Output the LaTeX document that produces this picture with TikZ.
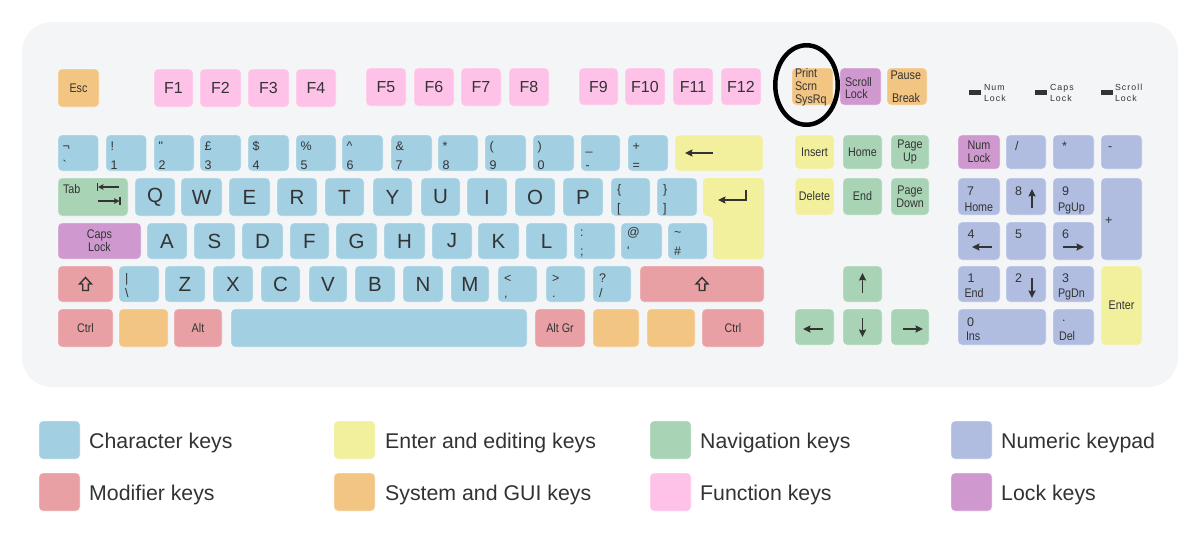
\documentclass[tikz,border=0pt]{standalone}
\usepackage{fontspec}
\setmainfont{Liberation Sans}
\newfontfamily\narrowfont[FakeStretch=0.86]{Liberation Sans}
\newfontfamily\ledfont[LetterSpace=12]{Liberation Sans}
\usetikzlibrary{arrows.meta,calc,shapes.geometric}
\definecolor{cchar}{HTML}{A2CFE2}
\definecolor{cedit}{HTML}{F2EF9D}
\definecolor{cnav}{HTML}{A9D3B5}
\definecolor{cnum}{HTML}{B0BDE1}
\definecolor{cmod}{HTML}{E8A0A5}
\definecolor{csys}{HTML}{F3C583}
\definecolor{cfun}{HTML}{FEC2E8}
\definecolor{clock}{HTML}{CF99CF}
\definecolor{cpanel}{HTML}{F4F5F7}
\definecolor{ctext}{HTML}{333333}
\newcommand\mykey[7]{%
  \pgfmathsetmacro\kcx{(#2+#4)/2}%
  \pgfmathsetmacro\kcy{(#3+#5)/2}%
  \pgfmathsetmacro\kw{#4-#2}%
  \pgfmathsetmacro\kh{#5-#3}%
  \node[#6, minimum width=\kw pt, minimum height=\kh pt] (#1) at (\kcx,\kcy) {#7};}
\newcommand\dkey[7]{%
  \mykey{#1}{#2}{#3}{#4}{#5}{kchar}{}%
  \node[lbl] (#1t) at ($(#1.north west)+(\lx,\topoff)$) {#6};
  \node[lbl] (#1b) at ($(#1.south west)+(\lx,-\botoff)$) {#7};}
\begin{document}
\begin{tikzpicture}[x=1pt,y=-1pt,
  kbase/.style={rounded corners=4pt, inner sep=0pt, outer sep=0pt, text=ctext, align=center,
    draw=white, draw opacity=.45, line width=.8pt, font=\narrowfont\fontsize{12.5}{12.8}\selectfont},
  kchar/.style={kbase, fill=cchar},
  kedit/.style={kbase, fill=cedit},
  knav/.style={kbase, fill=cnav},
  knum/.style={kbase, fill=cnum},
  kmod/.style={kbase, fill=cmod},
  ksys/.style={kbase, fill=csys},
  kfun/.style={kbase, fill=cfun},
  klock/.style={kbase, fill=clock},
  fbig/.style={font=\fontsize{20.5}{24}\selectfont},
  ffun/.style={font=\fontsize{16}{18}\selectfont},
  lbl/.style={inner sep=0pt, outer sep=0pt, anchor=base west, text=ctext, font=\fontsize{12.5}{14}\selectfont},
  slbl/.style={lbl, font=\narrowfont\fontsize{12.5}{14}\selectfont},
  ledlbl/.style={lbl, font=\ledfont\fontsize{8.8}{10}\selectfont},
  led/.style={fill=ctext, inner sep=0pt, minimum width=12pt, minimum height=5pt},
  arr/.style={draw=ctext, line width=1.7pt, -{Stealth[length=7.5pt,width=7pt,inset=1pt]}},
  arrsm/.style={draw=ctext, line width=1.5pt, -{Stealth[length=5.5pt,width=5.5pt,inset=1pt]}},
  shiftsym/.style={draw=ctext, line width=1.4pt, line join=miter},
  swatch/.style={rounded corners=4pt, draw=white, draw opacity=.45, line width=.8pt, minimum width=41pt, minimum height=38pt, inner sep=0pt},
  lgtext/.style={inner sep=0pt, anchor=base west, text=ctext, font=\fontsize{21.3}{24}\selectfont}
]
\useasboundingbox (0,0) rectangle (1200,544);
\fill[white] (0,0) rectangle (1200,544);
\fill[cpanel, rounded corners=30pt] (22,22) rectangle (1178,387);

% ---- function row
\mykey{esc}{58}{69}{99}{107}{ksys}{Esc}
\mykey{f1}{154}{69}{193}{107}{kfun,ffun}{F1}
\mykey{f2}{200}{69}{241}{107}{kfun,ffun}{F2}
\mykey{f3}{248}{69}{289}{107}{kfun,ffun}{F3}
\mykey{f4}{296}{69}{336}{107}{kfun,ffun}{F4}
\mykey{f5}{366}{68}{406}{106}{kfun,ffun}{F5}
\mykey{f6}{414}{68}{454}{106}{kfun,ffun}{F6}
\mykey{f7}{461}{68}{501}{106}{kfun,ffun}{F7}
\mykey{f8}{509}{68}{549}{106}{kfun,ffun}{F8}
\mykey{f9}{579}{68}{618}{105}{kfun,ffun}{F9}
\mykey{f10}{625}{68}{665}{105}{kfun,ffun}{F10}
\mykey{f11}{673}{68}{713}{105}{kfun,ffun}{F11}
\mykey{f12}{721}{68}{761}{105}{kfun,ffun}{F12}
\mykey{prt}{792}{68}{833}{105}{ksys}{}
\node[slbl] (prt1) at ($(prt.north west)+(3,9)$) {Print};
\node[slbl] (prt2) at ($(prt.north west)+(3,22)$) {Scrn};
\node[slbl] (prt3) at ($(prt.north west)+(3,35)$) {SysRq};
\mykey{scl}{840}{68}{881}{105}{klock}{}
\node[slbl] (scl1) at ($(scl.north west)+(5,18)$) {Scroll};
\node[slbl] (scl2) at ($(scl.north west)+(5,30)$) {Lock};
\mykey{pau}{887}{68}{927}{105}{ksys}{}
\node[slbl] (pau1) at ($(pau.north west)+(3.5,11)$) {Pause};
\node[slbl] (pau2) at ($(pau.north west)+(5,34)$) {Break};
\node[draw=black, ellipse, line width=4.5pt, inner sep=0pt, minimum width=62.5pt, minimum height=79.5pt] (ring) at (806.5,85) {};

% ---- lock LEDs
\node[led] (ledn) at (975,92) {};
\node[ledlbl] (ledn1) at (984,90) {Num};
\node[ledlbl] (ledn2) at (984,101) {Lock};
\node[led] (ledc) at (1041,92) {};
\node[ledlbl] (ledc1) at (1050,90) {Caps};
\node[ledlbl] (ledc2) at (1050,101) {Lock};
\node[led] (leds) at (1106.5,92) {};
\node[ledlbl] (leds1) at (1115,90) {Scroll};
\node[ledlbl] (leds2) at (1115,101) {Lock};

% ---- number row
\def\lx{4.5}\def\topoff{15}\def\botoff{2}
\dkey{k1}{58}{135}{98.5}{171}{¬}{\textasciigrave}
\dkey{k2}{106}{135}{146.5}{171}{!}{1}
\dkey{k3}{154}{135}{194}{171}{\textquotedbl}{2}
\dkey{k4}{200}{135}{241}{171}{£}{3}
\dkey{k5}{248}{135}{289}{171}{\$}{4}
\dkey{k6}{296}{135}{336}{171}{\%}{5}
\dkey{k7}{342}{135}{383}{171}{\textasciicircum}{6}
\dkey{k8}{391}{135}{432}{171}{\&}{7}
\dkey{k9}{438}{135}{478}{171}{*}{8}
\dkey{k10}{485}{135}{526}{171}{(}{9}
\dkey{k11}{533}{135}{574}{171}{)}{0}
\dkey{k12}{581}{135}{620}{171}{\_}{-}
\dkey{k13}{628}{135}{668}{171}{+}{=}
\mykey{bksp}{675}{135}{763}{171}{kedit}{}
\draw[arr] ($(bksp.west)+(38,0)$) -- ($(bksp.west)+(10,0)$);

% ---- QWERTY row
\mykey{tab}{58}{178}{128}{216}{knav}{}
\node[slbl] (tabl) at ($(tab.north west)+(5,15)$) {Tab};
\draw[arrsm] ($(tab.north west)+(61,9)$) -- ($(tab.north west)+(40,9)$);
\draw[draw=ctext, line width=1.6pt] ($(tab.north west)+(39.5,5)$) -- ($(tab.north west)+(39.5,13)$);
\draw[arrsm] ($(tab.north west)+(40,23)$) -- ($(tab.north west)+(61.5,23)$);
\draw[draw=ctext, line width=1.6pt] ($(tab.north west)+(62,19)$) -- ($(tab.north west)+(62,27)$);
\mykey{kq}{135}{178}{175}{216}{kchar,fbig}{Q}
\mykey{kw}{181}{178}{222}{216}{kchar,fbig}{W}
\mykey{ke}{229}{178}{270}{216}{kchar,fbig}{E}
\mykey{kr}{277}{178}{317}{216}{kchar,fbig}{R}
\mykey{kt}{325}{178}{364}{216}{kchar,fbig}{T}
\mykey{ky}{373}{178}{412}{216}{kchar,fbig}{Y}
\mykey{ku}{421}{178}{460}{216}{kchar,fbig}{U}
\mykey{ki}{467}{178}{507}{216}{kchar,fbig}{I}
\mykey{ko}{515}{178}{555}{216}{kchar,fbig}{O}
\mykey{kp}{563}{178}{603}{216}{kchar,fbig}{P}
\def\lx{6}\def\topoff{15.5}\def\botoff{4}
\dkey{klb}{611}{178}{650}{216}{\{}{[}
\dkey{krb}{657}{178}{697}{216}{\}}{]}
\path[fill=cedit, rounded corners=4pt] (703,178) -- (764,178) -- (764,259) -- (713,259) -- (713,216) -- (703,216) -- cycle;
\coordinate (ent) at (703,178);
\draw[arr, line join=miter] ($(ent)+(43,12)$) -- ($(ent)+(43,22)$) -- ($(ent)+(15,22)$);

% ---- ASDF row
\mykey{caps}{58}{223}{141}{259}{klock}{Caps\\Lock}
\mykey{ka}{147}{223}{187}{259}{kchar,fbig}{A}
\mykey{ks}{194}{223}{235}{259}{kchar,fbig}{S}
\mykey{kd}{242}{223}{283}{259}{kchar,fbig}{D}
\mykey{kf}{290}{223}{329}{259}{kchar,fbig}{F}
\mykey{kg}{336}{223}{377}{259}{kchar,fbig}{G}
\mykey{kh}{384}{223}{425}{259}{kchar,fbig}{H}
\mykey{kj}{432}{223}{472}{259}{kchar,fbig}{J}
\mykey{kk}{478}{223}{519}{259}{kchar,fbig}{K}
\mykey{kl}{526}{223}{567}{259}{kchar,fbig}{L}
\def\lx{6}\def\topoff{13.5}\def\botoff{4}
\dkey{ksc}{574}{223}{615}{259}{:}{;}
\dkey{kat}{621}{223}{662}{259}{@}{\textquotesingle}
\dkey{kti}{668}{223}{707}{259}{\textasciitilde}{\#}

% ---- ZXCV row
\mykey{lsh}{58}{266}{113}{302}{kmod}{}
\draw[shiftsym] ($(lsh.center)+(0,-6.5)$) -- ++(6,6.5) -- ++(-3.2,0) -- ++(0,6.5) -- ++(-5.6,0) -- ++(0,-6.5) -- ++(-3.2,0) -- cycle;
\def\lx{6}\def\topoff{16}\def\botoff{5}
\dkey{kbs}{119}{266}{159}{302}{\textbar}{\textbackslash}
\mykey{kz}{165}{266}{205}{302}{kchar,fbig}{Z}
\mykey{kx}{213}{266}{253}{302}{kchar,fbig}{X}
\mykey{kc}{261}{266}{300}{302}{kchar,fbig}{C}
\mykey{kv}{309}{266}{347}{302}{kchar,fbig}{V}
\mykey{kb}{355}{266}{395}{302}{kchar,fbig}{B}
\mykey{kn}{403}{266}{443}{302}{kchar,fbig}{N}
\mykey{km}{451}{266}{489}{302}{kchar,fbig}{M}
\dkey{klt}{498}{266}{537}{302}{<}{,}
\dkey{kgt}{546}{266}{585}{302}{>}{.}
\dkey{kqm}{593}{266}{631}{302}{?}{/}
\mykey{rsh}{640}{266}{764}{302}{kmod}{}
\draw[shiftsym] ($(rsh.center)+(0,-6.5)$) -- ++(6,6.5) -- ++(-3.2,0) -- ++(0,6.5) -- ++(-5.6,0) -- ++(0,-6.5) -- ++(-3.2,0) -- cycle;

% ---- bottom row
\mykey{lctl}{58}{309}{113}{347}{kmod}{Ctrl}
\mykey{lwin}{119}{309}{168}{347}{ksys}{}
\mykey{lalt}{174}{309}{222}{347}{kmod}{Alt}
\mykey{spc}{231}{309}{527}{347}{kchar}{}
\mykey{altgr}{535}{309}{585}{347}{kmod}{Alt Gr}
\mykey{rwin}{593}{309}{639}{347}{ksys}{}
\mykey{menu}{647}{309}{695}{347}{ksys}{}
\mykey{rctl}{702}{309}{764}{347}{kmod}{Ctrl}

% ---- editing / navigation
\mykey{ins}{795}{135}{834}{169}{kedit}{Insert}
\mykey{home}{843}{135}{882}{169}{knav}{Home}
\mykey{pgup}{891}{135}{929}{169}{knav}{Page\\Up}
\mykey{del}{795}{178}{834}{215}{kedit}{Delete}
\mykey{end}{843}{178}{882}{215}{knav}{End}
\mykey{pgdn}{891}{178}{929}{215}{knav}{Page\\Down}
\mykey{up}{843}{266}{882}{302}{knav}{}
\mykey{lft}{795}{309}{834}{345}{knav}{}
\mykey{dn}{843}{309}{882}{345}{knav}{}
\mykey{rt}{891}{309}{929}{345}{knav}{}
\draw[arr] ($(up.center)+(0,9)$) -- ($(up.center)+(0,-11)$);
\draw[arr] ($(lft.center)+(8.5,2)$) -- ($(lft.center)+(-11.5,2)$);
\draw[arr] ($(dn.center)+(0,-9)$) -- ($(dn.center)+(0,10)$);
\draw[arr] ($(rt.center)+(-7,2)$) -- ($(rt.center)+(13,2)$);

% ---- numeric keypad
\mykey{nlk}{958}{135}{1000}{169}{klock}{Num\\Lock}
\mykey{ndiv}{1006}{135}{1046}{169}{knum}{}
\mykey{nmul}{1053}{135}{1094}{169}{knum}{}
\mykey{nsub}{1101}{135}{1142}{169}{knum}{}
\node[lbl] (ndivl) at ($(ndiv.north west)+(9,15)$) {/};
\node[lbl] (nmull) at ($(nmul.north west)+(9,15)$) {*};
\node[lbl] (nsubl) at ($(nsub.north west)+(7,15)$) {-};
\mykey{n7}{958}{178}{1000}{215}{knum}{}
\mykey{n8}{1006}{178}{1046}{215}{knum}{}
\mykey{n9}{1053}{178}{1094}{215}{knum}{}
\mykey{nadd}{1101}{178}{1142}{260}{knum}{}
\node[lbl] (n7a) at ($(n7.north west)+(9,17)$) {7};
\node[slbl] (n7b) at ($(n7.north west)+(6.5,33)$) {Home};
\node[lbl] (n8a) at ($(n8.north west)+(9,17)$) {8};
\draw[arr] ($(n8.north west)+(26,30)$) -- ($(n8.north west)+(26,11)$);
\node[lbl] (n9a) at ($(n9.north west)+(9,17)$) {9};
\node[slbl] (n9b) at ($(n9.north west)+(5,33)$) {PgUp};
\node[lbl] (naddl) at ($(nadd.north west)+(4,46)$) {+};
\mykey{n4}{958}{222}{1000}{260}{knum}{}
\mykey{n5}{1006}{222}{1046}{260}{knum}{}
\mykey{n6}{1053}{222}{1094}{260}{knum}{}
\node[lbl] (n4a) at ($(n4.north west)+(9.5,16)$) {4};
\draw[arr] ($(n4.north west)+(34,25)$) -- ($(n4.north west)+(14,25)$);
\node[lbl] (n5a) at ($(n5.north west)+(9,16)$) {5};
\node[lbl] (n6a) at ($(n6.north west)+(9,16)$) {6};
\draw[arr] ($(n6.north west)+(10,25)$) -- ($(n6.north west)+(31,25)$);
\mykey{n1}{958}{266}{1000}{302}{knum}{}
\mykey{n2}{1006}{266}{1046}{302}{knum}{}
\mykey{n3}{1053}{266}{1094}{302}{knum}{}
\mykey{nent}{1101}{266}{1142}{345}{kedit}{Enter}
\node[lbl] (n1a) at ($(n1.north west)+(9.5,16)$) {1};
\node[slbl] (n1b) at ($(n1.north west)+(6.5,31)$) {End};
\node[lbl] (n2a) at ($(n2.north west)+(9,16)$) {2};
\draw[arr] ($(n2.north west)+(26,12)$) -- ($(n2.north west)+(26,32)$);
\node[lbl] (n3a) at ($(n3.north west)+(9,16)$) {3};
\node[slbl] (n3b) at ($(n3.north west)+(5,31)$) {PgDn};
\mykey{n0}{958}{309}{1046}{345}{knum}{}
\mykey{ndot}{1053}{309}{1094}{345}{knum}{}
\node[lbl] (n0a) at ($(n0.north west)+(9,17)$) {0};
\node[slbl] (n0b) at ($(n0.north west)+(8,31)$) {Ins};
\node[lbl] (ndota) at ($(ndot.north west)+(9,12)$) {.};
\node[slbl] (ndotb) at ($(ndot.north west)+(6,31)$) {Del};

% ---- legend
\node[swatch, fill=cchar] (lg1) at (59.5,440) {};
\node[lgtext] (lg1t) at (89,448) {Character keys};
\node[swatch, fill=cmod] (lg2) at (59.5,492) {};
\node[lgtext] (lg2t) at (89,500) {Modifier keys};
\node[swatch, fill=cedit] (lg3) at (354.5,440) {};
\node[lgtext] (lg3t) at (385,448) {Enter and editing keys};
\node[swatch, fill=csys] (lg4) at (354.5,492) {};
\node[lgtext] (lg4t) at (385,500) {System and GUI keys};
\node[swatch, fill=cnav] (lg5) at (670.5,440) {};
\node[lgtext] (lg5t) at (700,448) {Navigation keys};
\node[swatch, fill=cfun] (lg6) at (670.5,492) {};
\node[lgtext] (lg6t) at (700,500) {Function keys};
\node[swatch, fill=cnum] (lg7) at (971.5,440) {};
\node[lgtext] (lg7t) at (1001,448) {Numeric keypad};
\node[swatch, fill=clock] (lg8) at (971.5,492) {};
\node[lgtext] (lg8t) at (1001,500) {Lock keys};
\end{tikzpicture}
\end{document}
